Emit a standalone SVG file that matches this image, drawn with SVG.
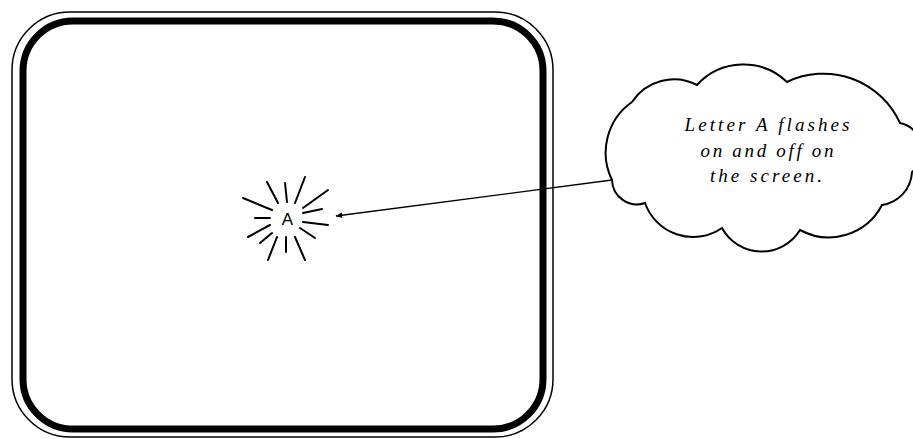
<svg xmlns="http://www.w3.org/2000/svg" width="913" height="439" viewBox="0 0 913 439">
<defs>
<marker id="ah" viewBox="0 0 10 10" refX="9" refY="5" markerWidth="7" markerHeight="7" orient="auto" markerUnits="userSpaceOnUse">
<path d="M0,1 L10,5 L0,9 Z" fill="#000"/>
</marker>
<style>
.ray{stroke:#000;stroke-width:2;stroke-linecap:round;fill:none}
.cloudtxt{font-family:"Liberation Serif","Times New Roman",serif;font-style:italic;font-size:19px;fill:#000;text-anchor:middle}
</style>
</defs>
<rect width="913" height="439" fill="#fff"/>
<g id="screen">
<rect x="12" y="12" width="541" height="425" rx="58" ry="58" fill="none" stroke="#000" stroke-width="1.5"/>
<rect x="23" y="21" width="520" height="408" rx="50" ry="50" fill="none" stroke="#000" stroke-width="7"/>
</g>
<g id="flash">
<text x="287.5" y="225" font-family="Liberation Sans, Arial, sans-serif" font-size="17" text-anchor="middle" fill="#000">A</text>
<line class="ray" x1="285" y1="183" x2="287" y2="202"/>
<line class="ray" x1="267" y1="182" x2="278" y2="203"/>
<line class="ray" x1="305" y1="177" x2="295" y2="203"/>
<line class="ray" x1="328" y1="190" x2="303" y2="208"/>
<line class="ray" x1="243" y1="198" x2="272" y2="210"/>
<line class="ray" x1="255" y1="218" x2="270" y2="218"/>
<line class="ray" x1="303" y1="213" x2="322" y2="209"/>
<line class="ray" x1="303" y1="222" x2="328" y2="225"/>
<line class="ray" x1="300" y1="228" x2="315" y2="238"/>
<line class="ray" x1="295" y1="237" x2="305" y2="260"/>
<line class="ray" x1="286" y1="237" x2="286" y2="252"/>
<line class="ray" x1="277" y1="237" x2="268" y2="260"/>
<line class="ray" x1="272" y1="233" x2="260" y2="243"/>
<line class="ray" x1="270" y1="225" x2="248" y2="237"/>
</g>
<g id="cloud">
<path d="M612,180 A62,62 0 0 1 632,102 A50,50 0 0 1 697,85 A63,63 0 0 1 787,82 A84,84 0 0 1 900,123 A28,28 0 0 1 912,172 A35,35 0 0 1 882,205 A60,60 0 0 1 800,230 A45,45 0 0 1 722,228 A51,51 0 0 1 645,203 A25,25 0 0 1 612,180 Z" fill="#fff" stroke="#000" stroke-width="2"/>
<text class="cloudtxt" x="767" y="131" textLength="165" lengthAdjust="spacing">Letter A flashes</text>
<text class="cloudtxt" x="767" y="157" textLength="133" lengthAdjust="spacing">on and off on</text>
<text class="cloudtxt" x="766" y="182" textLength="112" lengthAdjust="spacing">the screen.</text>
</g>
<g id="connectors">
<line x1="612" y1="180" x2="336" y2="216" stroke="#000" stroke-width="1.3" marker-end="url(#ah)"/>
</g>
</svg>
